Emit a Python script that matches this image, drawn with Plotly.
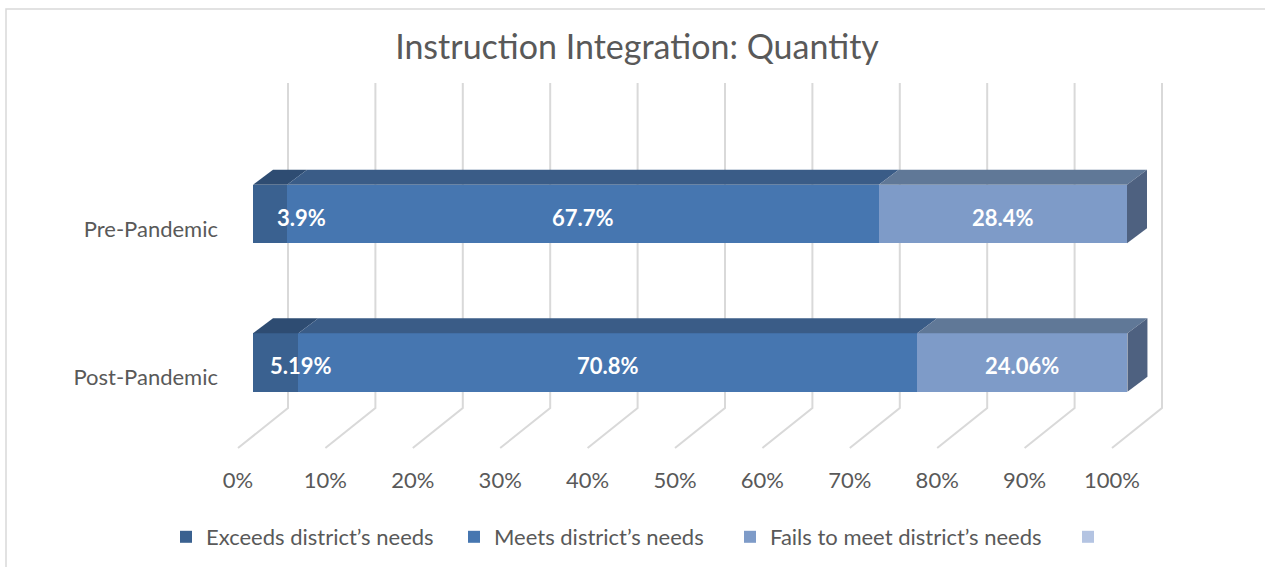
import plotly.graph_objects as go

# ---- data -------------------------------------------------------------
categories = ["Pre-Pandemic", "Post-Pandemic"]
exceeds = [3.9, 5.19]
meets = [67.7, 70.8]
fails = [28.4, 24.06]
unnamed = [0, 0]
series_names = [
    "Exceeds district\u2019s needs",
    "Meets district\u2019s needs",
    "Fails to meet district\u2019s needs",
    "",
]
x_ticks = [0, 10, 20, 30, 40, 50, 60, 70, 80, 90, 100]
x_tick_labels = ["0%", "10%", "20%", "30%", "40%", "50%", "60%", "70%", "80%", "90%", "100%"]

# ---- styling ------------------------------------------------------------
front_colors = ["#3A6190", "#4676B0", "#7E9BC8", "#B4C4E2"]
top_colors = ["#2E4C72", "#3A5C87", "#607897", "#8A9BB5"]
side_color = "#4E6180"
grid_color = "#D9D9D9"
text_color = "#595959"
FONT = "Lato"
legend_widths = [243, 231, 293, 40]   # px reserved for each legend entry's text

W, H = 1265, 567
ML, MR, MT, MB = 225, 65, 75, 112
plot_w = W - ML - MR
plot_h = H - MT - MB

# x axis: 8.74 px per percentage point, 0% front edge at 28 px into plot
PX_X = 8.74
x_lo = -28 / PX_X
x_range = [x_lo, x_lo + plot_w / PX_X]

# y axis (category positions): 148.5 px between the two bars
PX_Y = 148.5
y_lo = -92.5 / PX_Y
y_range = [y_lo, y_lo + plot_h / PX_Y]
cat_order = list(reversed(categories))  # first category drawn on top
cat_pos = {c: cat_order.index(c) for c in categories}

BAR_W = 58.5 / PX_Y
DX = 20 / PX_X      # depth offset of bar top/side faces
DY = 15 / PX_Y


def y_from_px(py):
    """Convert a screen row inside the plot area to y-axis units."""
    return y_lo + (H - MB - py) / PX_Y


fig = go.Figure()

series = [exceeds, meets, fails, unnamed]
for name, vals, col, lw in zip(series_names, series, front_colors, legend_widths):
    fig.add_trace(go.Bar(
        y=categories, x=vals, name=name, orientation="h",
        width=BAR_W, marker=dict(color=col, line=dict(width=0)),
        legendwidth=lw, hoverinfo="x+y",
    ))

shapes = []

# back-wall gridlines that bend onto the floor
wall_top = y_from_px(83)
wall_bot = y_from_px(408)
floor_front = y_from_px(448)
for t in x_ticks:
    xb = t + 35 / PX_X
    xf = t - 15 / PX_X
    shapes.append(dict(
        type="path", xref="x", yref="y", layer="below",
        path=f"M {xb},{wall_top} L {xb},{wall_bot} L {xf},{floor_front}",
        line=dict(color=grid_color, width=2),
    ))

# 3-D top and side faces of every stacked segment
annotations = []
for i, cat in enumerate(categories):
    yc = cat_pos[cat]
    yt = yc + BAR_W / 2
    yb = yc - BAR_W / 2
    base = 0.0
    vals_row = [s[i] for s in series[:3]]
    for k, v in enumerate(vals_row):
        x0, x1 = base, base + v
        shapes.append(dict(
            type="path", xref="x", yref="y", layer="above",
            path=(f"M {x0},{yt} L {x1},{yt} L {x1 + DX},{yt + DY} "
                  f"L {x0 + DX},{yt + DY} Z"),
            fillcolor=top_colors[k], line=dict(width=0),
        ))
        xc = max((x0 + x1) / 2, 5.5)
        annotations.append(dict(
            x=xc, y=yc, xref="x", yref="y", text=f"{v:g}%",
            showarrow=False, yshift=-3,
            font=dict(family=FONT, size=22, color="white", weight="bold"),
        ))
        base = x1
    shapes.append(dict(
        type="path", xref="x", yref="y", layer="above",
        path=(f"M {base},{yt} L {base + DX},{yt + DY} "
              f"L {base + DX},{yb + DY} L {base},{yb} Z"),
        fillcolor=side_color, line=dict(width=0),
    ))

# chart-area frame (top and left edges)
px2paper_x = lambda px: (px - ML) / plot_w
px2paper_y = lambda py: (H - MB - py) / plot_h
shapes.append(dict(
    type="path", xref="paper", yref="paper", layer="below",
    path=(f"M {px2paper_x(6)},{px2paper_y(580)} L {px2paper_x(6)},{px2paper_y(9)} "
          f"L {px2paper_x(1280)},{px2paper_y(9)}"),
    line=dict(color=grid_color, width=1.5),
))

fig.update_layout(
    width=W, height=H,
    margin=dict(l=ML, r=MR, t=MT, b=MB, autoexpand=False),
    barmode="stack",
    bargap=0,
    plot_bgcolor="white", paper_bgcolor="white",
    title=dict(
        text="Instruction Integration: Quantity",
        x=637 / W, xanchor="center", y=1 - 47 / H, yanchor="middle",
        font=dict(family=FONT, size=34, color=text_color),
    ),
    xaxis=dict(
        range=x_range, tickvals=x_ticks, ticktext=x_tick_labels,
        showgrid=False, zeroline=False, showline=False, ticks="",
        ticklabelshift=-15, ticklabelstandoff=10,
        tickfont=dict(family=FONT, size=22, color=text_color),
        fixedrange=True,
    ),
    yaxis=dict(
        type="category", categoryorder="array", categoryarray=cat_order,
        range=y_range, showgrid=False, zeroline=False, showline=False,
        ticks="", ticklabelshift=15, ticklabelstandoff=6,
        tickfont=dict(family=FONT, size=22, color=text_color),
        fixedrange=True,
    ),
    legend=dict(
        orientation="h", x=px2paper_x(166), xanchor="left",
        y=px2paper_y(537), yanchor="middle",
        font=dict(family=FONT, size=22, color=text_color),
        bgcolor="rgba(0,0,0,0)", traceorder="normal",
    ),
    shapes=shapes,
    annotations=annotations,
    showlegend=True,
)

fig.write_html("out.html")
